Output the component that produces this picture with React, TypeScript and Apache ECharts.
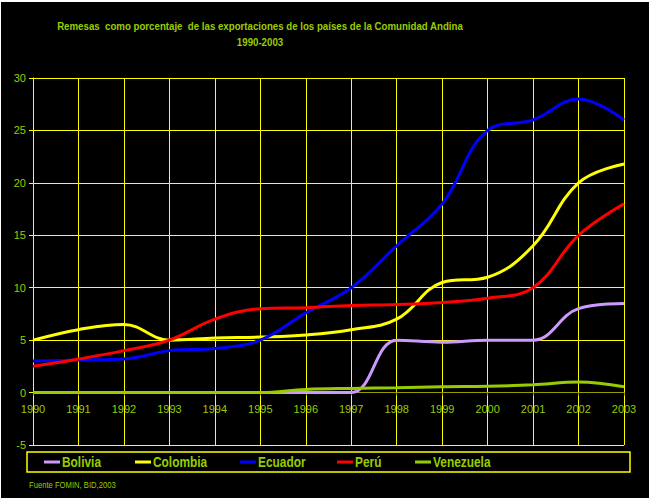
import React, { useEffect, useRef } from "react";
import * as echarts from "echarts";

const years = ["1990", "1991", "1992", "1993", "1994", "1995", "1996", "1997", "1998", "1999", "2000", "2001", "2002", "2003"];
const seriesNames = ["Bolivia", "Colombia", "Ecuador", "Perú", "Venezuela"];
const bolivia = [0, 0, 0, 0, 0, 0, 0, 0, 5, 4.8, 5, 5, 8, 8.5];
const colombia = [5, 6, 6.5, 5, 5.2, 5.3, 5.5, 6, 7, 10.5, 11, 14, 20, 21.8];
const ecuador = [3, 3.1, 3.2, 4, 4.2, 5, 7.6, 10, 14, 18, 25, 26, 28, 26];
const peru = [2.5, 3.2, 4, 5, 7, 8, 8.1, 8.3, 8.4, 8.6, 9, 10, 15, 18];
const venezuela = [0, 0, 0, 0, 0, 0, 0.3, 0.4, 0.45, 0.55, 0.6, 0.75, 1, 0.55];
const seriesValues = [bolivia, colombia, ecuador, peru, venezuela];
const yTicks = { min: -5, max: 30, interval: 5 };
const titleLines = ["Remesas  como porcentaje  de las exportaciones de los países de la Comunidad Andina", "1990-2003"];
const sourceNote = "Fuente FOMIN, BID,2003";

const colors = ["#cc99ff", "#ffff00", "#0000ff", "#ff0000", "#99cc00"];
const legendLeft = [43, 134, 239, 336, 414];
const FONT = "'Liberation Sans', Arial, sans-serif";
const TXT = "#99cc00";
const GRID = "#ffff00";
const GRID_TOP = 76;
const GRID_H = 367;

export default function App() {
  const ref = useRef<HTMLDivElement>(null);
  useEffect(() => {
    if (!ref.current) return;
    const chart = echarts.init(ref.current, undefined, { renderer: "svg" });
    const zeroOffset = (GRID_H * (0 - yTicks.min)) / (yTicks.max - yTicks.min);
    const legendGraphics: any[] = [];
    seriesNames.forEach((n, i) => {
      legendGraphics.push({
        type: "line",
        shape: { x1: legendLeft[i], y1: 460, x2: legendLeft[i] + 16, y2: 460 },
        style: { stroke: colors[i], lineWidth: 3 },
        silent: true,
      });
      legendGraphics.push({
        type: "text",
        x: legendLeft[i] + 18,
        y: 460,
        scaleX: 0.85,
        style: { text: n, fill: TXT, font: `bold 14px ${FONT}`, verticalAlign: "middle", align: "left" },
        silent: true,
      });
    });
    chart.setOption({
      animation: false,
      backgroundColor: "#000000",
      grid: { left: 32, top: GRID_TOP, width: 591, height: GRID_H, containLabel: false },
      xAxis: {
        type: "category",
        data: years,
        boundaryGap: false,
        offset: -zeroOffset,
        axisLine: { onZero: false, lineStyle: { color: "#999900", width: 1 } },
        axisTick: { show: true, length: 3, lineStyle: { color: "#999900" } },
        axisLabel: { color: TXT, fontFamily: FONT, fontSize: 11, margin: 11, interval: 0 },
        splitLine: { show: true, lineStyle: { color: GRID, width: 1 } },
      },
      yAxis: {
        type: "value",
        min: yTicks.min,
        max: yTicks.max,
        interval: yTicks.interval,
        axisLine: { show: true, lineStyle: { color: GRID, width: 1 } },
        axisTick: { show: true, length: 4, lineStyle: { color: GRID } },
        axisLabel: { color: TXT, fontFamily: FONT, fontSize: 11, margin: 7 },
        splitLine: { show: true, lineStyle: { color: GRID, width: 1 } },
      },
      graphic: [
        {
          type: "text",
          x: 259,
          y: 24,
          scaleX: 0.88,
          style: { text: titleLines[0], fill: TXT, font: `bold 11px ${FONT}`, align: "center", verticalAlign: "middle" },
          silent: true,
        },
        {
          type: "text",
          x: 259,
          y: 40,
          scaleX: 0.88,
          style: { text: titleLines[1], fill: TXT, font: `bold 11px ${FONT}`, align: "center", verticalAlign: "middle" },
          silent: true,
        },
        {
          type: "rect",
          shape: { x: 26, y: 450, width: 603, height: 20 },
          style: { fill: "none", stroke: GRID, lineWidth: 1.5 },
          silent: true,
        },
        ...legendGraphics,
        {
          type: "text",
          x: 28,
          y: 483,
          scaleX: 0.85,
          style: { text: sourceNote, fill: TXT, font: `9px ${FONT}`, verticalAlign: "middle" },
          silent: true,
        },
      ],
      series: seriesNames.map((n, i) => ({
        name: n,
        type: "line",
        data: seriesValues[i],
        smooth: 0.4,
        symbol: "none",
        lineStyle: { color: colors[i], width: 3 },
        itemStyle: { color: colors[i] },
      })),
    });
    return () => chart.dispose();
  }, []);
  return (
    <div style={{ position: "absolute", left: 0, top: 0, width: 652, height: 504, background: "#ffffff" }}>
      <div ref={ref} style={{ position: "absolute", left: 1, top: 2, width: 648, height: 496 }} />
    </div>
  );
}
